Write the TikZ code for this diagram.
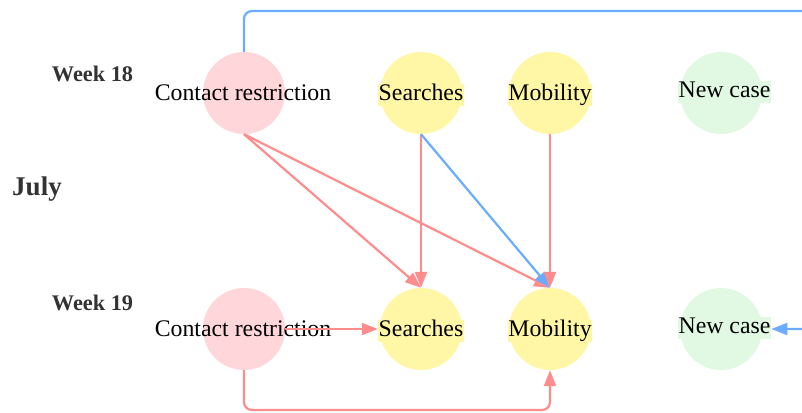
\documentclass[tikz,border=0pt]{standalone}
\usepackage{fontspec}
\setmainfont{Liberation Serif}
\usetikzlibrary{arrows.meta}
\definecolor{cpink}{HTML}{FFD7DA}
\definecolor{cyellow}{HTML}{FFF6A6}
\definecolor{cgreen}{HTML}{E1F9E3}
\definecolor{cred}{HTML}{FF8C8C}
\definecolor{cblue}{HTML}{6AACFF}
\definecolor{cweek}{HTML}{333333}
\tikzset{
  state/.style={circle, minimum size=82pt, inner sep=0pt, draw=none},
  lbl/.style={font=\fontsize{23.8}{26}\selectfont, text=black, inner xsep=0.7pt, inner ysep=0pt,
              text height=16.5pt, text depth=5.5pt},
  period/.style={font=\fontsize{22.3}{24}\selectfont\bfseries, text=cweek, inner sep=0pt},
  month/.style={font=\fontsize{27}{30}\selectfont\bfseries, text=cweek, inner sep=0pt},
  redge/.style={draw=cred, line width=2.2pt, -{Triangle[length=16pt,width=12pt]}},
  bedge/.style={draw=cblue, line width=2.2pt, -{Triangle[length=16pt,width=12pt]}},
}
\begin{document}
\begin{tikzpicture}[x=1pt,y=-1pt]
\useasboundingbox (0,0) rectangle (802,412);

% row labels
\node[period] (w18) at (92.5,74) {Week 18};
\node[period] (w19) at (92.5,303) {Week 19};
\node[month]  (jul) at (37,189) {July};

% week 18 states
\node[state, fill=cpink]   (cr18) at (244,93) {};
\node[state, fill=cyellow] (s18)  at (421,93) {};
\node[state, fill=cyellow] (m18)  at (550,93) {};
\node[state, fill=cgreen]  (n18)  at (721,93) {};
\node[lbl] (cr18t) at (243,95) {Contact restriction};
\node[lbl, fill=cyellow] (s18t) at (421,95) {Searches};
\node[lbl, fill=cyellow] (m18t) at (550,95) {Mobility};
\node[lbl, fill=cgreen]  (n18t) at (724.5,92) {New case};

% week 19 states
\node[state, fill=cpink]   (cr19) at (244,329) {};
\node[state, fill=cyellow] (s19)  at (421,329) {};
\node[state, fill=cyellow] (m19)  at (550,329) {};
\node[state, fill=cgreen]  (n19)  at (721,329) {};
\node[lbl] (cr19t) at (243,331) {Contact restriction};
\node[lbl, fill=cyellow] (s19t) at (421,331) {Searches};
\node[lbl, fill=cyellow] (m19t) at (550,331) {Mobility};
\node[lbl, fill=cgreen]  (n19t) at (724.5,328) {New case};

% routing points
\coordinate (topright) at (830,11);
\coordinate (crbot) at (244,410);

% connectors between weeks
\draw[redge] (cr18.south) -- (s19.north);
\draw[redge] (s18.south) -- (s19.north);
\draw[redge] (cr18.south) -- (m19.north);
\draw[bedge] (s18.south) -- (m19.north);
\draw[redge] (m18.south) -- (m19.north);
\draw[bedge, rounded corners=8pt] (cr18.north) |- (topright) |- (n19t.east |- n19.center);

% connectors within week 19
\draw[redge] (cr19.east |- n19.center) -- (s19t.west |- s19.center);
\draw[redge, rounded corners=8pt] (cr19.south) -- (crbot) -| (m19.south);
\end{tikzpicture}
\end{document}
